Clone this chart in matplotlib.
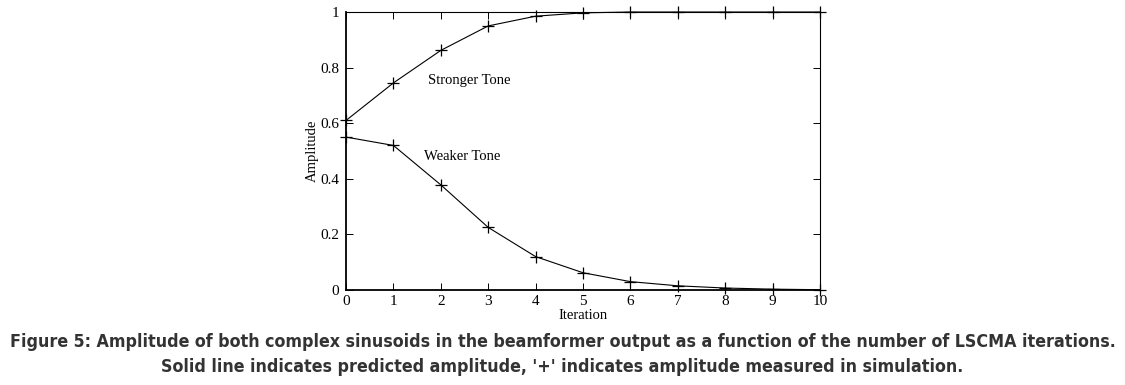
import matplotlib.pyplot as plt
import numpy as np

iterations = np.arange(0, 11)
stronger = [0.61, 0.745, 0.862, 0.95, 0.985, 0.997, 1.0, 1.0, 1.0, 1.0, 1.0]
weaker = [0.55, 0.52, 0.378, 0.225, 0.12, 0.062, 0.03, 0.015, 0.007, 0.003, 0.001]

caption1 = ("Figure 5: Amplitude of both complex sinusoids in the beamformer output "
            "as a function of the number of LSCMA iterations.")
caption2 = "Solid line indicates predicted amplitude, '+' indicates amplitude measured in simulation."

serif = "Liberation Serif"

fig = plt.figure(figsize=(11.25, 3.85), dpi=100)
ax = fig.add_axes([0.3076, 0.2468, 0.4213, 0.722])

ax.plot(iterations, stronger, color="black", lw=0.8, marker="+", ms=8, mew=0.9, clip_on=False)
ax.plot(iterations, weaker, color="black", lw=0.8, marker="+", ms=8, mew=0.9, clip_on=False)

ax.text(1.73, 0.755, "Stronger Tone", family=serif, fontsize=10.5, va="center")
ax.text(1.65, 0.482, "Weaker Tone", family=serif, fontsize=10.5, va="center")

ax.set_xlim(0, 10)
ax.set_ylim(0, 1)
ax.set_xticks(np.arange(0, 11))
ax.set_yticks([0, 0.2, 0.4, 0.6, 0.8, 1])
ax.set_yticklabels(["0", "0.2", "0.4", "0.6", "0.8", "1"])
ax.tick_params(direction="in", top=True, right=True, length=5, width=0.7, labelsize=11)
ax.tick_params(axis="y", pad=5)
for lab in ax.get_xticklabels() + ax.get_yticklabels():
    lab.set_family(serif)
for s in ax.spines.values():
    s.set_linewidth(0.8)
ax.spines["left"].set_linewidth(1.3)
ax.spines["bottom"].set_linewidth(1.3)

ax.set_xlabel("Iteration", family=serif, fontsize=10.5, labelpad=1)
ax.set_ylabel("Amplitude", family=serif, fontsize=10.5, labelpad=1)

fig.text(0.5, 1 - 342 / 385, caption1, ha="center", va="center", fontsize=12.8,
         family="DejaVu Sans", stretch="condensed", weight="bold", color="#333333")
fig.text(0.5, 1 - 367 / 385, caption2, ha="center", va="center", fontsize=12.8,
         family="DejaVu Sans", stretch="condensed", weight="bold", color="#333333")

fig.savefig("out.png", dpi=100)
